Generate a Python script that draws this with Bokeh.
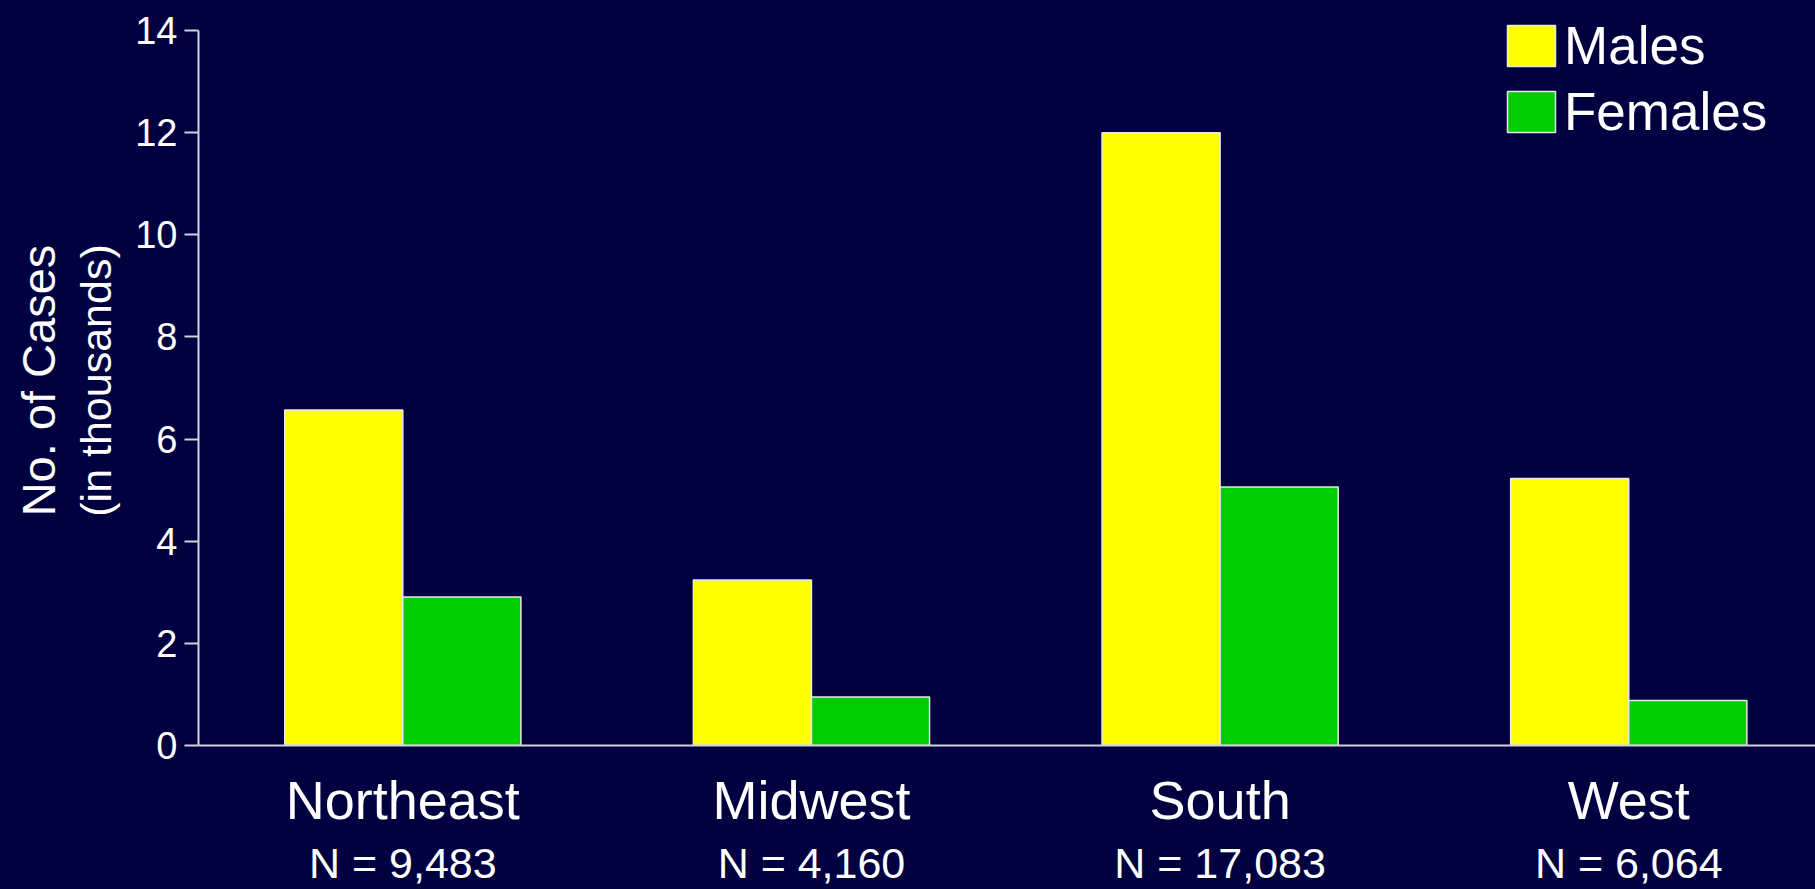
from bokeh.plotting import figure
from bokeh.models import (Range1d, LinearAxis, FixedTicker, Legend, LegendItem,
                          Title, ColumnDataSource)
from bokeh.embed import file_html
from bokeh.resources import INLINE

# ---- data ----
regions = ["Northeast", "Midwest", "South", "West"]
totals = ["N = 9,483", "N = 4,160", "N = 17,083", "N = 6,064"]
males = [6.57, 3.24, 12.0, 5.23]
females = [2.91, 0.95, 5.06, 0.88]
series_names = ["Males", "Females"]
y_ticks = [0, 2, 4, 6, 8, 10, 12, 14]

# ---- style ----
BG = "#000040"
FONT = "Liberation Sans"
AXIS = "#d2d2da"
YELLOW = "#FFFF00"
GREEN = "#00CC00"

W, H = 1815, 889
p = figure(width=W, height=H, output_backend="svg", toolbar_location=None,
           x_range=Range1d(0, 3.957), y_range=Range1d(0, 14.294),
           x_axis_location=None,
           min_border_left=198, min_border_right=0,
           min_border_top=15, min_border_bottom=144,
           background_fill_color=BG, border_fill_color=BG,
           outline_line_color=None)
p.xgrid.visible = False
p.ygrid.visible = False

centers = [i + 0.5 for i in range(len(regions))]
bw = 0.289
src = ColumnDataSource(dict(
    xm=[c - bw / 2 for c in centers],
    xf=[c + bw / 2 for c in centers],
    males=males, females=females))

rm = p.vbar(x="xm", top="males", width=bw, source=src,
            fill_color=YELLOW, line_color="#e8e8e8", line_width=1.5)
rf = p.vbar(x="xf", top="females", width=bw, source=src,
            fill_color=GREEN, line_color="#e8e8e8", line_width=1.5)

# ---- y axis ----
ya = p.yaxis[0]
ya.ticker = FixedTicker(ticks=y_ticks)
ya.bounds = (y_ticks[0], y_ticks[-1])
ya.axis_line_color = AXIS
ya.axis_line_width = 2
ya.major_tick_line_color = AXIS
ya.major_tick_line_width = 2
ya.major_tick_out = 14
ya.major_tick_in = 0
ya.minor_tick_line_color = None
ya.major_label_text_font = FONT
ya.major_label_text_font_size = "38px"
ya.major_label_text_color = "white"
ya.major_label_standoff = 7
ya.axis_label = "(in thousands)"
ya.axis_label_text_font = FONT
ya.axis_label_text_font_size = "43px"
ya.axis_label_text_font_style = "normal"
ya.axis_label_text_color = "white"
ya.axis_label_standoff = 12

p.add_layout(Title(text="No. of Cases", text_font=FONT, text_font_size="47px",
                   text_color="white", text_font_style="normal",
                   align="center", standoff=9), "left")

# ---- x axes (category names and totals) ----
xa1 = LinearAxis(ticker=FixedTicker(ticks=centers),
                 major_label_overrides={c: r for c, r in zip(centers, regions)})
xa1.axis_line_color = AXIS
xa1.axis_line_width = 2
xa1.major_tick_line_color = None
xa1.minor_tick_line_color = None
xa1.major_tick_out = 0
xa1.major_tick_in = 0
xa1.major_label_text_font = FONT
xa1.major_label_text_font_size = "54px"
xa1.major_label_text_color = "white"
xa1.major_label_standoff = 24
p.add_layout(xa1, "below")

xa2 = LinearAxis(ticker=FixedTicker(ticks=centers),
                 major_label_overrides={c: t for c, t in zip(centers, totals)})
xa2.axis_line_color = None
xa2.major_tick_line_color = None
xa2.minor_tick_line_color = None
xa2.major_tick_out = 0
xa2.major_tick_in = 0
xa2.major_label_text_font = FONT
xa2.major_label_text_font_size = "43px"
xa2.major_label_text_color = "white"
xa2.major_label_standoff = 6
p.add_layout(xa2, "below")

# ---- legend ----
legend = Legend(items=[LegendItem(label=series_names[0], renderers=[rm]),
                       LegendItem(label=series_names[1], renderers=[rf])],
                location=(1303, 603),
                glyph_width=60, glyph_height=51, label_standoff=3,
                spacing=5, padding=0, margin=0,
                border_line_color=None, background_fill_alpha=0,
                label_text_font=FONT, label_text_font_size="53px",
                label_text_color="white")
p.add_layout(legend, "center")

html = file_html(p, INLINE)
html = html.replace("</head>",
                    "<style>html, body { background-color: #000040 !important; }</style></head>", 1)
open("out.html", "w").write(html)
